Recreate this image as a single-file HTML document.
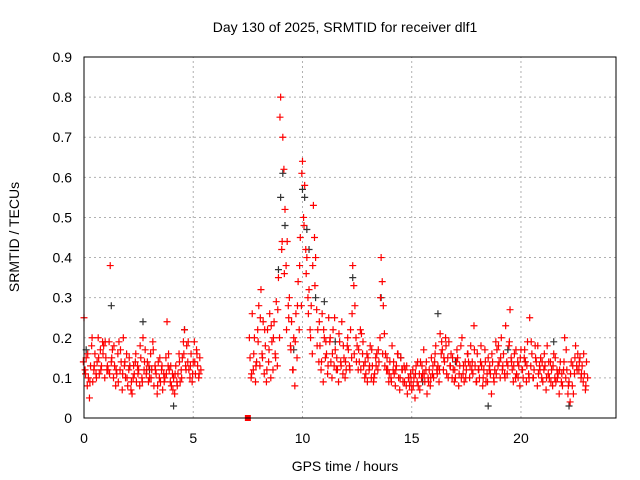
<!DOCTYPE html>
<html><head><meta charset="utf-8"><style>
html,body{margin:0;padding:0;background:#fff;}
svg{display:block;font-family:"Liberation Sans",sans-serif;}
</style></head><body>
<svg id="chart" width="640" height="480" viewBox="0 0 640 480">
<rect x="0" y="0" width="640" height="480" fill="#fff"/>
<g id="grid"></g>
<g id="ticks"></g>
<g id="marks"></g>
<rect x="84" y="57" width="532" height="361" fill="none" stroke="#000" stroke-width="1"/>
<text x="345" y="32" text-anchor="middle" font-size="14">Day 130 of 2025, SRMTID for receiver dlf1</text>
<text x="345" y="471" text-anchor="middle" font-size="14">GPS time / hours</text>
<text x="19" y="237" text-anchor="middle" font-size="14" transform="rotate(-90 19 237)">SRMTID / TECUs</text>
</svg>
<script>
const xTicks=[0,5,10,15,20];
const yTicks=[0,0.1,0.2,0.3,0.4,0.5,0.6,0.7,0.8,0.9];
const yTickLabels=["0","0.1","0.2","0.3","0.4","0.5","0.6","0.7","0.8","0.9"];
const redTimes=[0.0,0.1,0.2,0.3,0.4,0.5,0.6,0.7,0.8,0.9,1.0,1.1,1.2,1.3,1.4,1.5,1.6,1.7,1.8,1.9,2.0,2.1,2.2,2.3,2.4,2.5,2.6,2.7,2.8,2.9,3.0,3.1,3.2,3.3,3.4,3.5,3.6,3.7,3.8,3.9,4.0,4.1,4.2,4.3,4.4,4.5,4.6,4.7,4.8,4.9,5.0,5.1,5.2,5.3,
7.6,7.7,7.8,7.9,8.0,8.1,8.2,8.3,8.4,8.5,8.6,8.7,8.8,8.9,9.0,9.1,9.2,9.3,9.4,9.5,9.6,9.7,9.8,9.9,10.0,10.1,10.2,10.3,10.4,10.5,10.6,10.7,10.8,10.9,11.0,11.1,11.2,11.3,11.4,11.5,11.6,11.7,11.8,11.9,12.0,12.1,12.2,12.3,12.4,12.5,12.6,12.7,12.8,12.9,13.0,13.1,13.2,13.3,13.4,13.5,13.6,13.7,13.8,13.9,14.0,14.1,14.2,14.3,14.4,14.5,14.6,14.7,14.8,14.9,15.0,15.1,15.2,15.3,15.4,15.5,15.6,15.7,15.8,15.9,16.0,16.1,16.2,16.3,16.4,16.5,16.6,16.7,16.8,16.9,17.0,17.1,17.2,17.3,17.4,17.5,17.6,17.7,17.8,17.9,18.0,18.1,18.2,18.3,18.4,18.5,18.6,18.7,18.8,18.9,19.0,19.1,19.2,19.3,19.4,19.5,19.6,19.7,19.8,19.9,20.0,20.1,20.2,20.3,20.4,20.5,20.6,20.7,20.8,20.9,21.0,21.1,21.2,21.3,21.4,21.5,21.6,21.7,21.8,21.9,22.0,22.1,22.2,22.3,22.4,22.5,22.6,22.7,22.8,22.9,23.0];
const redValsA=[.25,.15,.10,.13,.09,.16,.14,.11,.13,.18,.15,.12,.38,.17,.13,.11,.19,.14,.20,.10,.08,.13,.06,.11,.09,.12,.15,.20,.17,.14,.10,.12,.08,.11,.14,.09,.07,.10,.24,.12,.08,.10,.13,.11,.09,.15,.22,.18,.12,.16,.14,.11,.13,.15,
.15,.26,.20,.14,.28,.32,.24,.18,.22,.26,.19,.24,.29,.35,.80,.70,.52,.44,.30,.24,.20,.26,.34,.45,.64,.58,.40,.32,.28,.53,.40,.22,.18,.26,.20,.16,.25,.14,.22,.17,.12,.19,.24,.15,.12,.17,.22,.38,.28,.18,.14,.21,.13,.11,.15,.18,.13,.11,.16,.14,.40,.28,.16,.12,.14,.18,.11,.13,.10,.15,.09,.12,.06,.08,.07,.10,.13,.08,.14,.11,.09,.06,.12,.15,.10,.18,.13,.21,.17,.14,.11,.19,.16,.12,.10,.15,.13,.20,.09,.12,.14,.18,.11,.13,.16,.10,.13,.12,.09,.15,.11,.14,.12,.17,.14,.20,.16,.23,.13,.27,.12,.16,.11,.13,.17,.10,.14,.19,.25,.16,.12,.14,.11,.15,.09,.13,.18,.10,.12,.16,.09,.11,.14,.08,.20,.12,.09,.14,.06,.18,.16,.15,.13,.11,.14];
const redValsB=[.12,.08,.05,.18,.12,.11,.20,.17,.19,.10,.12,.19,.14,.10,.08,.16,.12,.07,.13,.16,.12,.07,.10,.14,.13,.08,.10,.12,.11,.09,.16,.19,.13,.06,.10,.12,.11,.15,.13,.09,.11,.06,.09,.16,.12,.19,.13,.14,.10,.09,.19,.17,.10,.12,
.10,.12,.09,.22,.13,.16,.11,.09,.14,.10,.12,.16,.13,.20,.42,.62,.38,.28,.18,.12,.08,.15,.22,.28,.50,.42,.30,.22,.16,.45,.27,.14,.12,.09,.15,.11,.19,.10,.13,.12,.09,.14,.11,.10,.18,.13,.15,.33,.20,.12,.22,.16,.10,.16,.12,.10,.09,.15,.12,.20,.34,.21,.12,.09,.10,.12,.08,.16,.07,.12,.13,.08,.10,.11,.12,.05,.09,.11,.10,.17,.12,.10,.08,.11,.14,.12,.09,.16,.12,.20,.15,.13,.10,.09,.14,.08,.18,.11,.14,.16,.10,.12,.23,.09,.12,.14,.08,.17,.11,.12,.06,.10,.19,.13,.10,.12,.11,.14,.18,.15,.09,.10,.14,.08,.12,.15,.09,.11,.13,.10,.18,.08,.13,.10,.12,.07,.11,.14,.08,.10,.12,.06,.09,.12,.10,.06,.04,.08,.11,.13,.12,.10,.09,.07,.10];
const redValsC=[.14,.11,.16,.09,.20,.13,.10,.15,.12,.16,.19,.13,.11,.15,.18,.12,.09,.17,.11,.14,.10,.15,.09,.13,.16,.11,.18,.09,.14,.12,.13,.10,.17,.12,.08,.15,.13,.09,.11,.16,.13,.07,.11,.08,.14,.10,.16,.12,.19,.13,.11,.14,.16,.11,
.20,.11,.16,.13,.19,.25,.15,.22,.12,.17,
.23,.20,.15,.27,.75,.44,.36,.22,.25,.17,
.12,.19,.28,.38,.61,.48,.36,.26,.20,.38,
.33,.18,.24,.14,.22,.19,.13,.20,.16,.25,
.15,.21,.13,.18,.14,.20,.12,.26,.16,.14,
.17,.12,.19,.14,.09,.13,.17,.10,.13,.17,
.30,.16,.13,.15,.11,.09,.14,.12,.16,.10,
.12,.09,.13,.10,.09,.08,.11,.14,.07,.13,
.11,.14,.09,.10,.13,.16,.11,.12,.19,.15,
.18,.10,.13,.15,.12,.17,.11,.10,.13,.10,
.16,.13,.14,.17,.09,.12,.18,.10,.14,.09,
.13,.16,.09,.11,.18,.15,.13,.10,.11,.19,
.14,.13,.17,.10,.15,.12,.17,.13,.10,.19,
.10,.15,.18,.12,.14,.16,.10,.14,.09,.13,
.15,.10,.12,.11,.14,.17,.08,.11,.13,.15,
.12,.14,.11,.16,.08];
const blackTimes=[0.1,1.25,2.1,2.7,3.0,4.1,4.6,8.9,9.0,9.1,9.2,9.6,10.0,10.1,10.2,10.3,10.6,11.0,11.5,12.3,13.6,14.5,15.5,16.2,17.0,18.5,19.4,20.2,21.5,22.2];
const blackVals=[.17,.28,.13,.24,.12,.03,.22,.37,.55,.61,.48,.17,.57,.55,.47,.42,.30,.29,.19,.35,.30,.15,.09,.26,.14,.03,.17,.14,.19,.03];
const squareTimes=[7.5];
const squareVals=[0];

const X0=84,X1=616,Y0=418,Y1=57,XMAX=24.35,YMAX=0.9;
function xs(t){return X0+(X1-X0)*t/XMAX;}
function ys(v){return Y0-(Y0-Y1)*v/YMAX;}
const NS="http://www.w3.org/2000/svg";
const grid=document.getElementById('grid'),ticks=document.getElementById('ticks'),marks=document.getElementById('marks');
function mk(tag,attrs,parent){const e=document.createElementNS(NS,tag);for(const k in attrs)e.setAttribute(k,attrs[k]);parent.appendChild(e);return e;}
yTicks.forEach((v,i)=>{
  if(v>0&&v<YMAX){const g=mk('line',{x1:X0,x2:X1,y1:ys(v),y2:ys(v),stroke:'#b0b0b0','stroke-dasharray':'2,3','stroke-width':1},grid);
  
  }
  const t=mk('text',{x:72,y:ys(v)+5,'text-anchor':'end','font-size':14},ticks);t.textContent=yTickLabels[i];
  
  
});
xTicks.forEach(v=>{
  if(v>0){const g=mk('line',{x1:xs(v),x2:xs(v),y1:Y0,y2:Y1,stroke:'#b0b0b0','stroke-dasharray':'2,3','stroke-width':1},grid);
  
  }
  const t=mk('text',{x:xs(v),y:443,'text-anchor':'middle','font-size':14},ticks);t.textContent=String(v);
  
  
});
function plus(t,v,color,name){
  const x=xs(t),y=ys(v);
  const p=mk('path',{d:`M${x-3.5} ${y}H${x+3.5}M${x} ${y-3.5}V${y+3.5}`,stroke:color,'stroke-width':1.2,fill:'none'},marks);
  
  
}
blackTimes.forEach((t,i)=>plus(t,blackVals[i],'#333','black-point'));
redTimes.forEach((t,i)=>{
  plus(t,redValsA[i],'#ff0000','red-point');
  plus(t+0.05,redValsB[i],'#ff0000','red-point');
  plus(t-0.03,redValsC[i],'#ff0000','red-point');
});
squareTimes.forEach((t,i)=>{
  const r=mk('rect',{x:xs(t)-3,y:ys(squareVals[i])-3,width:6,height:6,fill:'#ff0000'},marks);
  
  
});
</script>
</body></html>
